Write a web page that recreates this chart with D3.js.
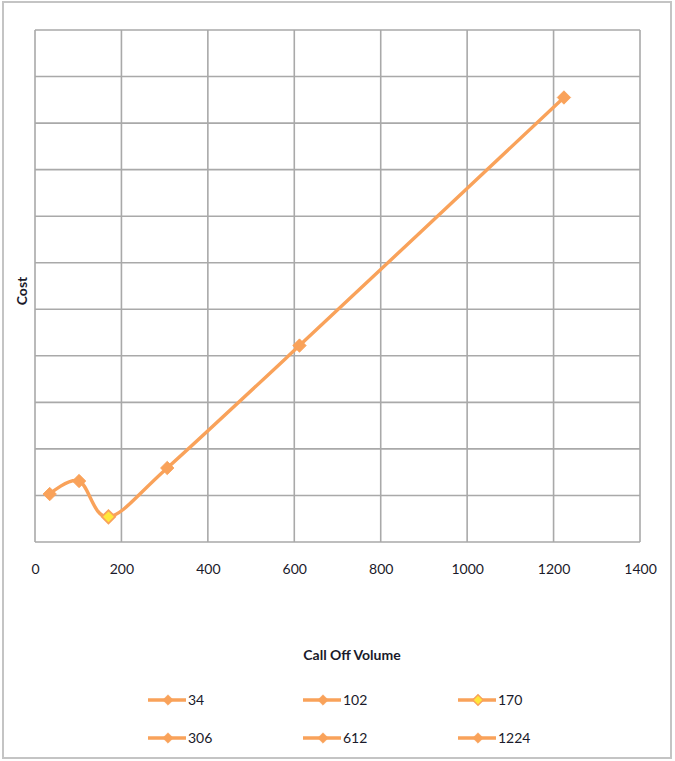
<!DOCTYPE html>
<html><head><meta charset="utf-8">
<script src="https://cdn.jsdelivr.net/npm/d3@7"></script>
<style>
html,body{margin:0;padding:0;background:#fff;}
text{font-family:Lato,"Open Sans",sans-serif;fill:#1a1a2a;}
</style></head>
<body>
<svg id="c" width="675" height="761"></svg>
<script>
// Data (cost read in grid units; no y labels in source)
const volumes = [34, 102, 170, 306, 612, 1224];
const costs = [1.03, 1.31, 0.54, 1.59, 4.22, 9.55];
const seriesNames = ["34", "102", "170", "306", "612", "1224"];
const xTicks = [0, 200, 400, 600, 800, 1000, 1200, 1400];
const yTicks = [0,1,2,3,4,5,6,7,8,9,10,11];

const orange = "#F9A25A";
const gridC = "#a9a9a9";
const svg = d3.select("#c");

// outer frame
svg.append("rect").attr("x",3).attr("y",2).attr("width",668).attr("height",756)
  .attr("fill","#fff").attr("stroke","#c4c4c4").attr("stroke-width",2);

const L=35,R=640,T=30,B=542;
const x = d3.scaleLinear().domain([0,1400]).range([L,R]);
const y = d3.scaleLinear().domain([0,11]).range([B,T]);

// grid
const g = svg.append("g");
g.selectAll(".v").data(xTicks).join("line")
  .attr("x1",d=>x(d)).attr("x2",d=>x(d)).attr("y1",T).attr("y2",B)
  .attr("stroke",gridC).attr("stroke-width",1.6);
g.selectAll(".h").data(yTicks).join("line")
  .attr("x1",L).attr("x2",R).attr("y1",d=>y(d)).attr("y2",d=>y(d))
  .attr("stroke",gridC).attr("stroke-width",1.6);

// x axis labels
const xAxis = d3.axisBottom(x).tickValues(xTicks).tickFormat(d3.format("d")).tickSize(0).tickPadding(22);
const ax = svg.append("g").attr("transform",`translate(0,${B})`).call(xAxis);
ax.select(".domain").remove();
ax.selectAll("text").style("font-size","14px").style("font-family","Lato,sans-serif").attr("fill","#1a1a2a");

// axis titles
svg.append("text").attr("x",352).attr("y",660).attr("text-anchor","middle")
  .style("font-size","14px").style("font-weight","bold").text("Call Off Volume");
svg.append("text").attr("transform","translate(27,291) rotate(-90)").attr("text-anchor","middle")
  .style("font-size","14px").style("font-weight","bold").text("Cost");

// line
const pts = volumes.map((v,i)=>[v,costs[i]]);
const line = d3.line().x(d=>x(d[0])).y(d=>y(d[1])).curve(d3.curveCatmullRom.alpha(0));
svg.append("path").datum(pts).attr("d",line).attr("fill","none")
  .attr("stroke",orange).attr("stroke-width",3.4).attr("stroke-linecap","round");

const sq = d3.symbol().type(d3.symbolSquare).size(90);
svg.selectAll(".m").data(pts).join("path")
  .attr("transform",d=>`translate(${x(d[0])},${y(d[1])}) rotate(45)`)
  .attr("d",sq)
  .attr("fill",(d,i)=>i===2?"#FFE83A":orange)
  .attr("stroke",orange).attr("stroke-width",(d,i)=>i===2?1.8:0.8);

// legend
const legX=[148,303,458], legY=[700,738];
const lg = svg.append("g");
seriesNames.forEach((n,i)=>{
  const cx=legX[i%3], cy=legY[Math.floor(i/3)];
  lg.append("line").attr("x1",cx).attr("x2",cx+38).attr("y1",cy).attr("y2",cy)
    .attr("stroke",orange).attr("stroke-width",3.4);
  lg.append("path").attr("transform",`translate(${cx+20},${cy}) rotate(45)`)
    .attr("d",d3.symbol().type(d3.symbolSquare).size(55))
    .attr("fill",i===2?"#FFE83A":orange).attr("stroke",orange).attr("stroke-width",i===2?1.5:0.5);
  lg.append("text").attr("x",cx+40).attr("y",cy+5).style("font-size","14px").text(n);
});
</script>
</body></html>
